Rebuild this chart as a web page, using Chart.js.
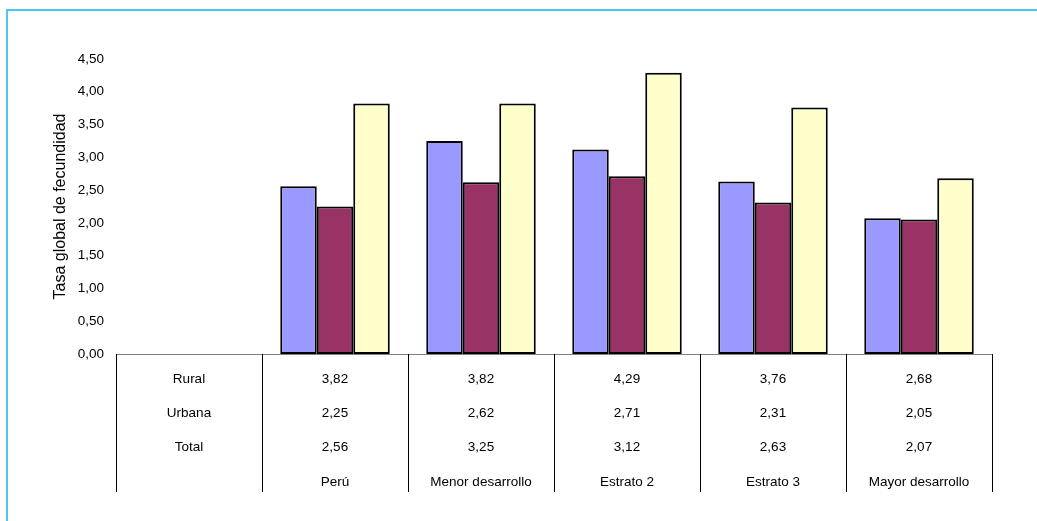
<!DOCTYPE html>
<html>
<head>
<meta charset="utf-8">
<script src="https://cdn.jsdelivr.net/npm/chart.js@4.4.1/dist/chart.umd.min.js"></script>
<style>
  html, body { margin: 0; padding: 0; background: #fff; overflow: hidden; }
  #wrap { position: relative; width: 1037px; height: 521px; }
  #frame { position: absolute; left: 6px; top: 9px; width: 1100px; height: 600px;
           border-top: 2px solid #4cc6f2; border-left: 2px solid #4cc6f2; }
  canvas { position: absolute; left: 0; top: 0; }
</style>
</head>
<body>
<div id="wrap">
  <div id="frame"></div>
  <canvas id="myChart" width="1037" height="521"></canvas>
</div>
<script>
const categories = ['', 'Perú', 'Menor desarrollo', 'Estrato 2', 'Estrato 3', 'Mayor desarrollo'];
const rowLabels = ['Rural', 'Urbana', 'Total'];
const total = [null, 2.56, 3.25, 3.12, 2.63, 2.07];
const urbana = [null, 2.25, 2.62, 2.71, 2.31, 2.05];
const rural = [null, 3.82, 3.82, 4.29, 3.76, 2.68];

const sans = "'Liberation Sans', Arial, sans-serif";
const fmt = v => v.toFixed(2).replace('.', ',');

// data table under the axis: one multi-line tick label per category
const tableLabels = categories.map((c, i) => {
    if (i === 0) return [...rowLabels, ''];
    return [fmt(rural[i]), fmt(urbana[i]), fmt(total[i]), c];
});

const tableLines = {
    id: 'tableLines',
    afterDraw(chart) {
        const x = chart.scales.x;
        const area = chart.chartArea;
        const half = (x.getPixelForValue(1) - x.getPixelForValue(0)) / 2;
        const c = chart.ctx;
        c.save();
        c.strokeStyle = '#000';
        c.lineWidth = 1;
        for (let i = 0; i <= categories.length; i++) {
            const px = Math.round(x.getPixelForValue(i) - half) + 0.5;
            c.beginPath();
            c.moveTo(px, area.bottom);
            c.lineTo(px, area.bottom + 138);
            c.stroke();
        }
        c.restore();
    }
};

const ctx = document.getElementById('myChart').getContext('2d');
const chart = new Chart(ctx, {
    type: 'bar',
    data: {
        labels: categories,
        datasets: [{
            label: 'Total',
            data: total,
            backgroundColor: '#9999ff',
            borderColor: '#000',
            borderWidth: 2,
            borderSkipped: false
        }, {
            label: 'Urbana',
            data: urbana,
            backgroundColor: '#993366',
            borderColor: '#000',
            borderWidth: 2,
            borderSkipped: false
        }, {
            label: 'Rural',
            data: rural,
            backgroundColor: '#ffffcc',
            borderColor: '#000',
            borderWidth: 2,
            borderSkipped: false
        }]
    },
    options: {
        responsive: false,
        animation: false,
        layout: { padding: { top: 59, left: 0, right: 45, bottom: 0 } },
        datasets: { bar: { categoryPercentage: 0.75, barPercentage: 1.0 } },
        plugins: { legend: { display: false }, tooltip: { enabled: false } },
        scales: {
            x: {
                grid: { display: false },
                border: { display: true, color: '#808080', width: 1 },
                ticks: {
                    autoSkip: false,
                    maxRotation: 0,
                    padding: 0,
                    color: '#000',
                    font: { family: sans, size: 13.5, lineHeight: 34.3 / 13.5 },
                    callback: (v, i) => tableLabels[i]
                },
                afterFit: s => { s.height = 167; }
            },
            y: {
                min: 0,
                max: 4.5,
                grid: { display: false },
                border: { display: false },
                ticks: {
                    stepSize: 0.5,
                    padding: 4,
                    color: '#000',
                    font: { family: sans, size: 13.5 },
                    callback: v => fmt(v)
                },
                title: {
                    display: true,
                    text: 'Tasa global de fecundidad',
                    color: '#000',
                    font: { family: sans, size: 16 },
                    padding: { top: 51, bottom: 0 }
                },
                afterFit: s => { s.width = 116; }
            }
        }
    },
    plugins: [tableLines]
});
</script>
</body>
</html>
